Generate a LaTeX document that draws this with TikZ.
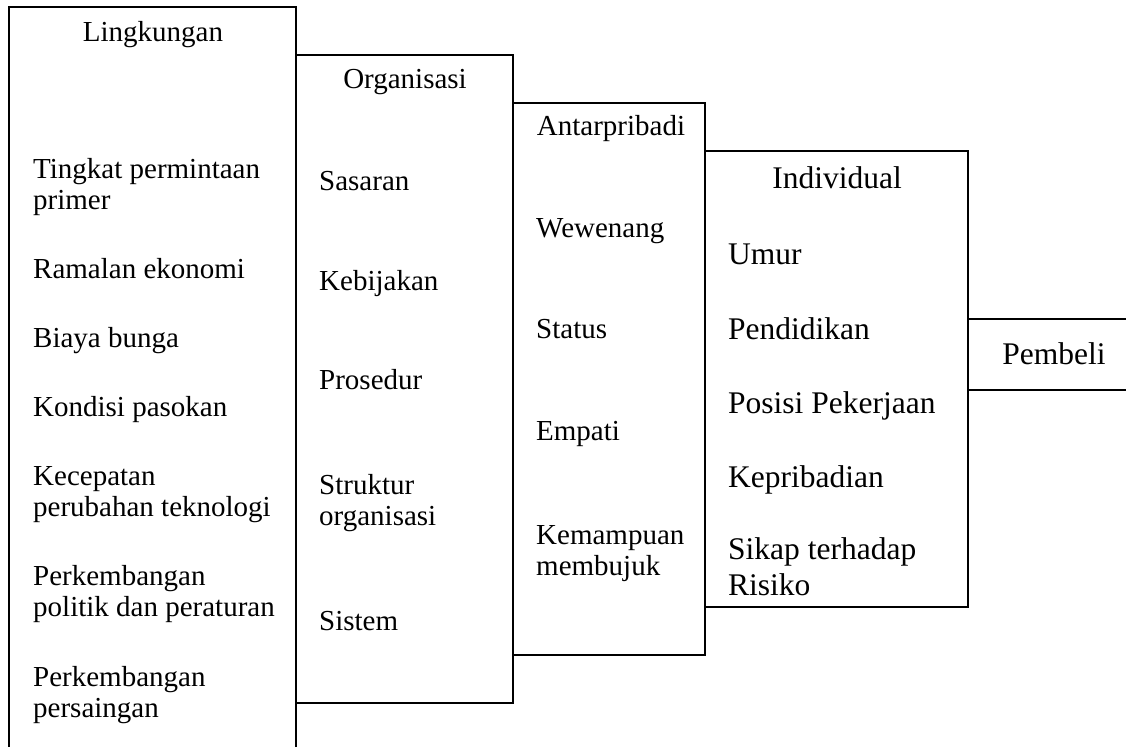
\documentclass[tikz,border=0pt]{standalone}
\usepackage{fontspec}
\setmainfont{Liberation Serif}
\begin{document}
\begin{tikzpicture}[x=1pt,y=-1pt,
  frame/.style={line width=1.6pt, line join=miter},
  item/.style={anchor=base west, inner sep=0pt, align=left, font=\fontsize{29}{31}\selectfont},
  itembig/.style={anchor=base west, inner sep=0pt, align=left, font=\fontsize{31.5}{35.5}\selectfont},
  title/.style={anchor=base, inner sep=0pt, font=\fontsize{29}{31}\selectfont},
  titlebig/.style={anchor=base, inner sep=0pt, font=\fontsize{31.5}{35.5}\selectfont}]
\useasboundingbox (0,0) rectangle (1126,747);

% nested frames, from the environment down to the buyer
\draw[frame] (296,747) -- (296,7) -- (9,7) -- (9,747);
\draw[frame] (296,55) -- (513,55) -- (513,703) -- (296,703);
\draw[frame] (513,103) -- (705,103) -- (705,655) -- (513,655);
\draw[frame] (705,151) -- (968,151) -- (968,607) -- (705,607);
\draw[frame] (968,319) -- (1126,319);
\draw[frame] (968,390) -- (1126,390);

% Lingkungan (two-line nodes are placed by the baseline of their last line)
\node[title] (lingk) at (153,41) {Lingkungan};
\node[item] (l1) at (33,209) {Tingkat permintaan\\primer};
\node[item] (l2) at (33,278) {Ramalan ekonomi};
\node[item] (l3) at (33,347) {Biaya bunga};
\node[item] (l4) at (33,416) {Kondisi pasokan};
\node[item] (l5) at (33,516) {Kecepatan\\perubahan teknologi};
\node[item] (l6) at (33,616) {Perkembangan\\politik dan peraturan};
\node[item] (l7) at (33,717) {Perkembangan\\persaingan};

% Organisasi
\node[title] (org) at (405,88) {Organisasi};
\node[item] (o1) at (319,190) {Sasaran};
\node[item] (o2) at (319,290) {Kebijakan};
\node[item] (o3) at (319,389) {Prosedur};
\node[item] (o4) at (319,525) {Struktur\\organisasi};
\node[item] (o5) at (319,630) {Sistem};

% Antarpribadi
\node[title] (antar) at (611,135) {Antarpribadi};
\node[item] (a1) at (536,237) {Wewenang};
\node[item] (a2) at (536,338) {Status};
\node[item] (a3) at (536,440) {Empati};
\node[item] (a4) at (536,575) {Kemampuan\\membujuk};

% Individual
\node[titlebig] (indiv) at (837,188) {Individual};
\node[itembig] (i1) at (728,264) {Umur};
\node[itembig] (i2) at (728,339) {Pendidikan};
\node[itembig] (i3) at (728,413) {Posisi Pekerjaan};
\node[itembig] (i4) at (728,487) {Kepribadian};
\node[itembig] (i5) at (728,595) {Sikap terhadap\\Risiko};

% Pembeli
\node[titlebig] (buyer) at (1054,364) {Pembeli};
\end{tikzpicture}
\end{document}
